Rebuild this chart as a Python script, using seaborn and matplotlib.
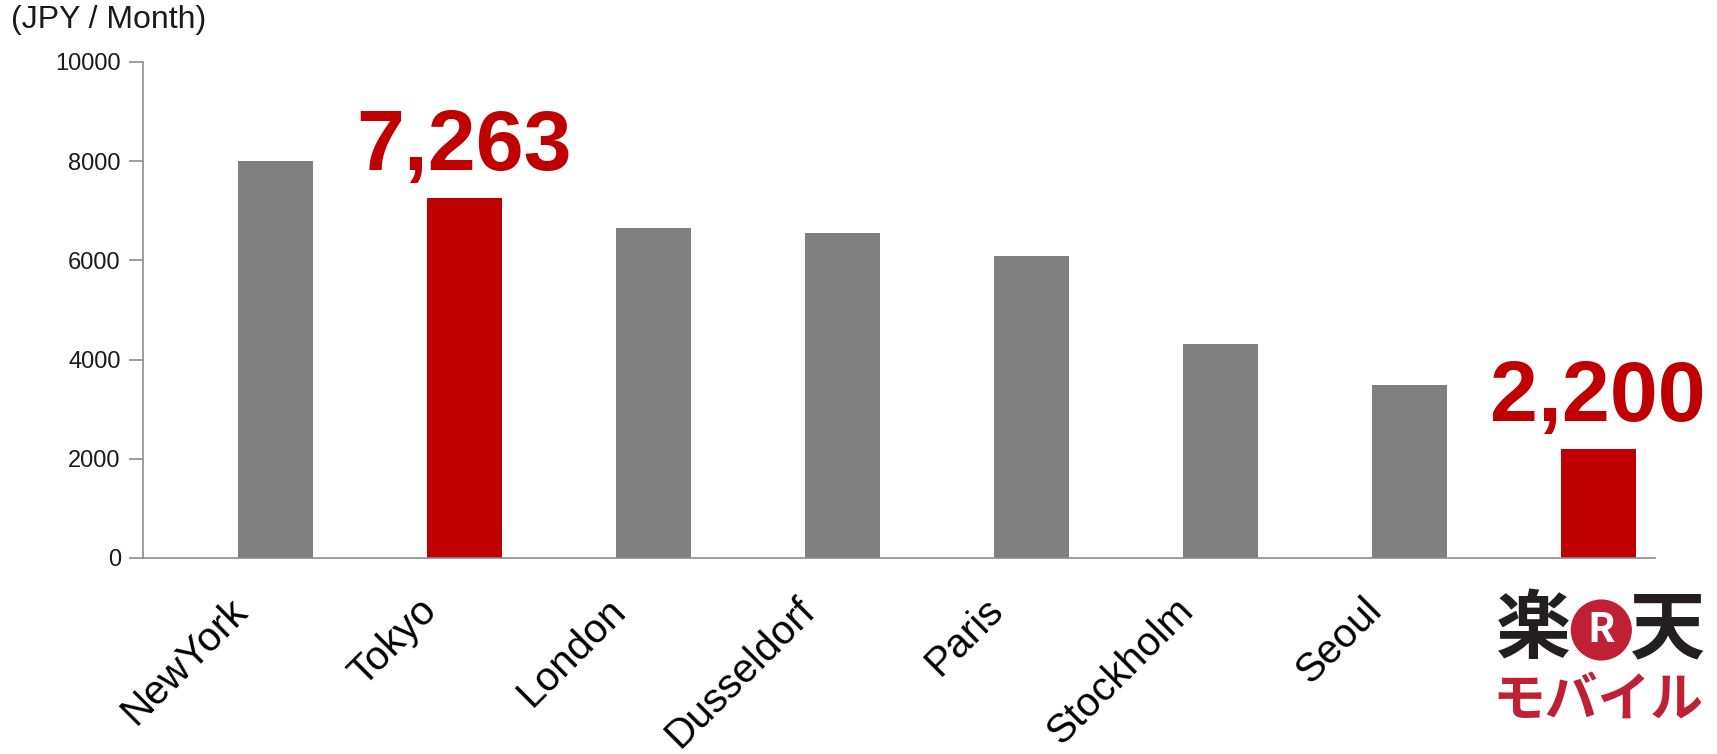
import matplotlib
matplotlib.use("Agg")
import matplotlib.pyplot as plt
import matplotlib.transforms as mtransforms
import seaborn as sns
import pandas as pd

# ---- data ----
cities = ["NewYork", "Tokyo", "London", "Dusseldorf", "Paris", "Stockholm", "Seoul", "Rakuten"]
tick_labels = ["NewYork", "Tokyo", "London", "Dusseldorf", "Paris", "Stockholm", "Seoul", ""]
values = [8000, 7263, 6650, 6550, 6080, 4320, 3490, 2200]
bar_colors = ["#808080", "#C00000", "#808080", "#808080", "#808080", "#808080", "#808080", "#C00000"]
highlight_labels = {1: "7,263", 7: "2,200"}
y_ticks = [0, 2000, 4000, 6000, 8000, 10000]
unit_label = "(JPY / Month)"
logo_line1 = ["楽", "R", "天"]
logo_line2 = "モバイル"

sns.set_theme(style="white")
plt.rcParams["font.family"] = ["Liberation Sans", "DejaVu Sans"]

df = pd.DataFrame({"city": cities, "value": values})

fig = plt.figure(figsize=(17.17, 7.54), dpi=100)
ax = fig.add_axes([143 / 1717, 1 - 558 / 754, (1655 - 143) / 1717, (558 - 62) / 754])

sns.barplot(data=df, x="city", y="value", hue="city", palette=bar_colors,
            width=0.4, legend=False, ax=ax, linewidth=0, saturation=1)

ax.set_xlim(-0.7, 7.3)
ax.set_ylim(0, 10000)
ax.set_yticks(y_ticks)
ax.set_yticklabels([str(v) for v in y_ticks], fontsize=17, color="#1A1A1A")
ax.set_xlabel("")
ax.set_ylabel("")

for s in ["top", "right"]:
    ax.spines[s].set_visible(False)
for s in ["left", "bottom"]:
    ax.spines[s].set_color("#8C8C8C")
    ax.spines[s].set_linewidth(1.2)

ax.tick_params(axis="y", which="both", left=True, length=10, width=1.2, color="#8C8C8C", pad=6)
ax.tick_params(axis="x", which="both", bottom=False, length=0)

ax.set_xticks(range(len(cities)))
ax.set_xticklabels(tick_labels, rotation=45, ha="right", va="top",
                   rotation_mode="anchor", fontsize=29.2, color="#000000")
for lbl in ax.get_xticklabels():
    lbl.set_transform(lbl.get_transform() + mtransforms.ScaledTranslation(-47 / 100, -28 / 100, fig.dpi_scale_trans))

# value labels
for i, txt in highlight_labels.items():
    ax.annotate(txt, xy=(i, values[i]), xytext=(0, 7), textcoords="offset points",
                ha="center", va="bottom", fontsize=62, fontweight="bold", color="#C00000")

# unit label
fig.text(11 / 1717, 1 - 5 / 754, unit_label, ha="left", va="top", fontsize=23, color="#1A1A1A")

# logo under last category
trans = mtransforms.blended_transform_factory(ax.transData, fig.transFigure)
cjk = ["Noto Sans CJK JP", "DejaVu Sans"]
xi = len(cities) - 1
y1 = 1 - 630 / 754
ax.text(xi, y1, logo_line1[0], transform=trans + mtransforms.ScaledTranslation(-0.65, 0, fig.dpi_scale_trans),
        ha="center", va="center", fontsize=54, fontweight="bold", color="#231F20", family=cjk, clip_on=False)
ax.text(xi, y1, logo_line1[2], transform=trans + mtransforms.ScaledTranslation(0.69, 0, fig.dpi_scale_trans),
        ha="center", va="center", fontsize=54, fontweight="bold", color="#231F20", family=cjk, clip_on=False)
ax.text(xi, y1, logo_line1[1], transform=trans + mtransforms.ScaledTranslation(0.03, 0, fig.dpi_scale_trans),
        ha="center", va="center", fontsize=29, fontweight="bold", color="white", family=cjk, clip_on=False,
        bbox=dict(boxstyle="circle,pad=0.25", fc="#BF2033", ec="none"))
ax.text(xi, 1 - 700 / 754, logo_line2, transform=trans,
        ha="center", va="center", fontsize=38, fontweight="bold", color="#BF2033", family=cjk, clip_on=False)

fig.savefig("out.png", dpi=100)
